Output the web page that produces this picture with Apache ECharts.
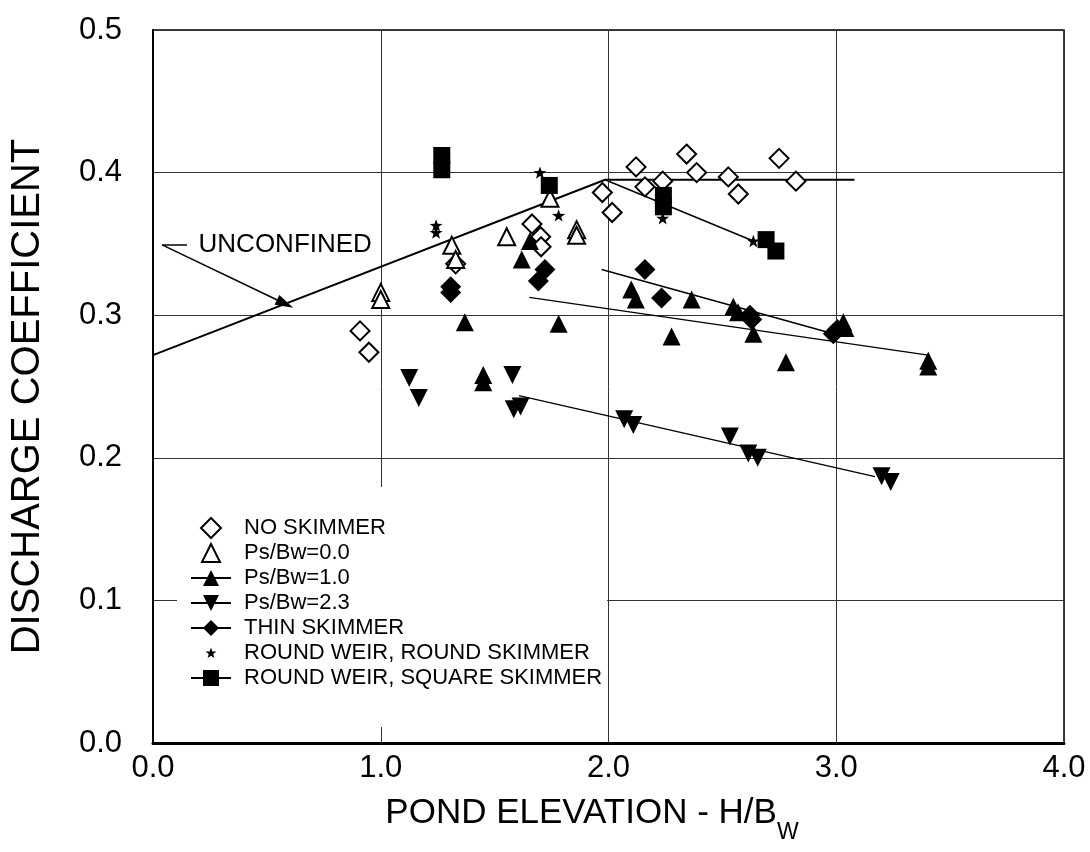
<!DOCTYPE html>
<html><head><meta charset="utf-8">
<script src="https://cdn.jsdelivr.net/npm/echarts@6/dist/echarts.min.js"></script>
<style>html,body{margin:0;padding:0;background:#fff}#c{width:1090px;height:852px}</style>
</head><body><div id="c"></div>
<script>
// ---- data ----
const xTicks = ['0.0', '1.0', '2.0', '3.0', '4.0'];
const yTicks = ['0.0', '0.1', '0.2', '0.3', '0.4', '0.5'];
const legendNames = ['NO SKIMMER', 'Ps/Bw=0.0', 'Ps/Bw=1.0', 'Ps/Bw=2.3', 'THIN SKIMMER',
  'ROUND WEIR, ROUND SKIMMER', 'ROUND WEIR, SQUARE SKIMMER'];

const noSkimmer = [[0.909,0.289],[0.948,0.274],[1.329,0.336],[1.664,0.364],[1.702,0.355],[1.704,0.348],
  [1.973,0.386],[2.016,0.372],[2.121,0.404],[2.160,0.390],[2.238,0.394],[2.343,0.413],[2.387,0.400],
  [2.526,0.397],[2.570,0.385],[2.749,0.410],[2.823,0.394]];
const ps00 = [[1.0,0.316],[1.0,0.311],[1.312,0.349],[1.329,0.339],[1.553,0.355],[1.743,0.382],[1.86,0.360],[1.86,0.356]];
const ps10 = [[1.369,0.295],[1.45,0.258],[1.45,0.253],[1.619,0.339],[1.655,0.352],[1.781,0.294],[2.10,0.318],
  [2.12,0.311],[2.277,0.285],[2.365,0.311],[2.548,0.306],[2.569,0.302],[2.636,0.287],[2.779,0.267],
  [3.031,0.295],[3.04,0.291],[3.404,0.268],[3.404,0.264]];
const ps23 = [[1.125,0.256],[1.167,0.242],[1.578,0.258],[1.584,0.234],[1.614,0.236],[2.069,0.227],[2.109,0.223],
  [2.533,0.215],[2.614,0.203],[2.655,0.200],[3.199,0.187],[3.239,0.183]];
const thinSkimmer = [[1.307,0.320],[1.307,0.316],[1.692,0.324],[1.721,0.332],[2.160,0.332],[2.233,0.312],
  [2.621,0.300],[2.629,0.297],[2.987,0.287],[3.005,0.290]];
const roundRound = [[1.243,0.363],[1.243,0.358],[1.699,0.400],[1.781,0.370],[2.238,0.368],[2.636,0.352]];
const roundSquare = [[1.268,0.412],[1.268,0.402],[1.740,0.391],[2.241,0.384],[2.241,0.376],[2.692,0.353],[2.735,0.345]];

const unconfinedLine = [[0,0.272],[1.985,0.395],[3.08,0.395]];
const fitSquare = [[1.985,0.395],[2.636,0.352]];
const fitThin = [[1.970,0.332],[2.987,0.287]];
const fitPs10 = [[1.652,0.3125],[3.404,0.272]];
const fitPs23 = [[1.607,0.2436],[3.17,0.1868]];

const unconfinedLabelAt = [0.2, 0.349];
const unconfinedLeader = [[0.149,0.3493],[0.04,0.3493],[0.58,0.308]];

// ---- styling ----
const FONT = '"Liberation Sans", Arial, Helvetica, sans-serif';
const TRI_DOWN = 'path://M0,0L20,0L10,20Z';
const STAR = 'path://M50,0L61.76,33.82L97.55,34.55L69.02,56.18L79.39,90.45L50,70L20.61,90.45L30.98,56.18L2.45,34.55L38.24,33.82Z';
// legend icons: invisible frame points give a 2:1 box so the glyph is not stretched
const LEG_DIAMOND = 'path://M-10,0M30,20M10,0L20,10L10,20L0,10Z';
const LEG_TRIANGLE = 'path://M-10,0M30,20M10,1L19,19L1,19Z';
const LEG_STAR = 'path://M-121,-38M221,133M50,0L61.76,33.82L97.55,34.55L69.02,56.18L79.39,90.45L50,70L20.61,90.45L30.98,56.18L2.45,34.55L38.24,33.82Z';
const openStyle = {color: '#fff', borderColor: '#000', borderWidth: 2, opacity: 1};
const fillStyle = {color: '#000', opacity: 1};

function fitSeries(name, data, symbol) {
  return {name, type: 'line', data, symbol, showSymbol: false, silent: true,
    lineStyle: {color: '#000', width: 1.5}, itemStyle: {color: '#000', opacity: 1}, z: 2};
}
function scatterSeries(name, data, symbol, size, style) {
  return {name, type: 'scatter', data, symbol, symbolSize: size, symbolKeepAspect: true,
    itemStyle: style, z: 3, silent: true};
}

const chart = echarts.init(document.getElementById('c'), null, {renderer: 'canvas'});
chart.setOption({
  animation: false,
  backgroundColor: '#fff',
  textStyle: {fontFamily: FONT, color: '#000'},
  grid: {left: 153, right: 26, top: 30, bottom: 109, containLabel: false, outerBoundsMode: 'none',
    show: true, borderColor: '#000', borderWidth: 1.5},
  xAxis: {
    type: 'value', min: 0, max: 4, interval: 1,
    name: '{a|POND ELEVATION - H/B}{s|W}', nameLocation: 'middle', nameGap: 53,
    nameTextStyle: {padding: [0, 33, 0, 0], rich: {
      a: {fontSize: 35, fontFamily: FONT, color: '#000', lineHeight: 42, verticalAlign: 'top'},
      s: {fontSize: 23, fontFamily: FONT, color: '#000', lineHeight: 24, verticalAlign: 'top', padding: [25, 0, 0, 0]}
    }},
    axisLine: {show: true, lineStyle: {color: '#000', width: 3}},
    axisTick: {show: false},
    axisLabel: {fontSize: 31, color: '#000', fontFamily: FONT, margin: 10,
      formatter: v => xTicks[Math.round(v)]},
    splitLine: {show: true, lineStyle: {color: '#333', width: 1}}
  },
  yAxis: {
    type: 'value', min: 0, max: 0.5, interval: 0.1,
    name: 'DISCHARGE COEFFICIENT', nameLocation: 'middle', nameGap: 105, nameRotate: 90,
    nameTextStyle: {fontSize: 40, color: '#000', fontFamily: FONT, padding: [0, 20, 0, 0]},
    axisLine: {show: true, lineStyle: {color: '#000', width: 2}},
    axisTick: {show: false},
    axisLabel: {fontSize: 31, color: '#000', fontFamily: FONT, margin: 31,
      formatter: v => yTicks[Math.round(v * 10)]},
    splitLine: {show: true, lineStyle: {color: '#333', width: 1}}
  },
  legend: {
    orient: 'vertical', left: 177, top: 487,
    padding: [30, 5, 38, 13], backgroundColor: '#fff',
    itemWidth: 40, itemHeight: 20, itemGap: 3, symbolKeepAspect: true,
    textStyle: {fontSize: 22, color: '#000', fontFamily: FONT, padding: [0, 0, 0, 8]},
    selectedMode: false,
    data: [
      {name: legendNames[0], icon: LEG_DIAMOND, itemStyle: openStyle},
      {name: legendNames[1], icon: LEG_TRIANGLE, itemStyle: openStyle},
      {name: legendNames[2]},
      {name: legendNames[3]},
      {name: legendNames[4]},
      {name: legendNames[5], icon: LEG_STAR},
      {name: legendNames[6]}
    ]
  },
  series: [
    {name: 'UNCONFINED', type: 'line', data: unconfinedLine, symbol: 'none', silent: true,
      lineStyle: {color: '#000', width: 2}, z: 2,
      markLine: {silent: true, symbol: ['none', 'none'], animation: false,
        lineStyle: {color: '#000', width: 1.5, type: 'solid'}, label: {show: false},
        emphasis: {disabled: true},
        data: [
          [{coord: unconfinedLeader[0]}, {coord: unconfinedLeader[1]}],
          [{coord: unconfinedLeader[1]}, {coord: unconfinedLeader[2], symbol: 'triangle', symbolSize: [11, 18]}]
        ]},
      markPoint: {silent: true, animation: false, symbol: 'circle', symbolSize: 0,
        data: [{coord: unconfinedLabelAt, label: {show: true, position: 'right', distance: 0,
          formatter: 'UNCONFINED', fontSize: 26, color: '#000', fontFamily: FONT}}]}
    },
    fitSeries(legendNames[2], fitPs10, 'triangle'),
    fitSeries(legendNames[3], fitPs23, TRI_DOWN),
    fitSeries(legendNames[4], fitThin, 'diamond'),
    fitSeries(legendNames[6], fitSquare, 'rect'),
    scatterSeries(legendNames[0], noSkimmer, 'diamond', 19, openStyle),
    scatterSeries(legendNames[1], ps00, 'triangle', 17, openStyle),
    scatterSeries(legendNames[2], ps10, 'triangle', 18, fillStyle),
    scatterSeries(legendNames[3], ps23, TRI_DOWN, 18, fillStyle),
    scatterSeries(legendNames[4], thinSkimmer, 'diamond', 21, fillStyle),
    scatterSeries(legendNames[5], roundRound, STAR, 13, fillStyle),
    scatterSeries(legendNames[6], roundSquare, 'rect', 17, fillStyle)
  ]
});
</script>
</body></html>
